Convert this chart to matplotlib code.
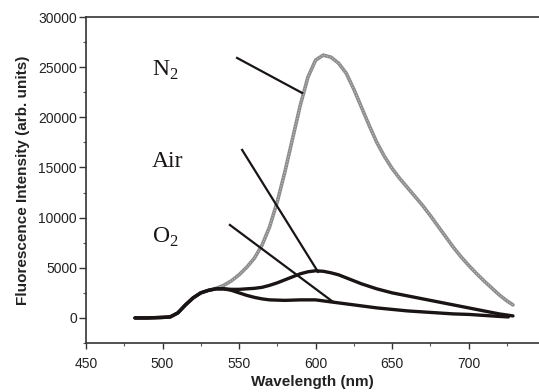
import matplotlib
matplotlib.use('Agg')
import matplotlib.pyplot as plt
from matplotlib.ticker import MultipleLocator

plt.rcParams['font.family'] = ['Liberation Sans', 'DejaVu Sans']
plt.rcParams['mathtext.fontset'] = 'custom'
plt.rcParams['mathtext.rm'] = 'Liberation Serif'

# N2 (grey)
wl_n2 = [482, 490, 500, 505, 510, 515, 520, 525, 530, 535, 540, 545, 550, 555, 560,
         565, 570, 575, 580, 585, 590, 595, 600, 605, 610, 615, 620, 625, 630, 635,
         640, 645, 650, 655, 660, 665, 670, 675, 680, 685, 690, 695, 700, 705, 710,
         715, 720, 725, 729]
int_n2 = [0, 0, 50, 100, 500, 1300, 2000, 2500, 2750, 2950, 3250, 3700, 4300, 5050, 5950,
          7250, 9100, 11600, 14600, 17900, 21200, 24000, 25700, 26200, 26000, 25400, 24400, 22800, 21000, 19200,
          17500, 16100, 14900, 13900, 13000, 12100, 11200, 10200, 9150, 8100, 7050, 6100, 5250, 4450, 3700,
          3000, 2300, 1700, 1300]

# Air
wl_air = [482, 490, 500, 505, 510, 515, 520, 525, 530, 535, 540, 545, 550, 555, 560,
          565, 570, 575, 580, 585, 590, 595, 600, 605, 610, 615, 620, 625, 630, 635,
          640, 645, 650, 660, 670, 680, 690, 700, 710, 720, 729]
int_air = [0, 0, 50, 100, 500, 1300, 2000, 2500, 2750, 2900, 2900, 2850, 2850, 2900, 2950,
           3050, 3250, 3500, 3800, 4100, 4400, 4600, 4700, 4650, 4500, 4300, 4000, 3700, 3400, 3150,
           2900, 2700, 2500, 2200, 1900, 1600, 1300, 1000, 700, 400, 200]

# O2
wl_o2 = [482, 490, 500, 505, 510, 515, 520, 525, 530, 535, 540, 545, 550, 555, 560,
         565, 570, 580, 590, 600, 610, 620, 630, 640, 650, 660, 670, 680, 690, 700,
         710, 720, 726]
int_o2 = [0, 0, 50, 100, 500, 1300, 2000, 2500, 2750, 2900, 2900, 2750, 2500, 2250, 2050,
          1900, 1800, 1750, 1800, 1800, 1600, 1400, 1200, 1000, 850, 700, 600, 500, 400, 350,
          250, 150, 100]

labels = [r'N$_{\mathrm{2}}$', 'Air', r'O$_{\mathrm{2}}$']
label_pos = [(493, 24130), (493, 15050), (493, 7480)]
leader_lines = [((548.7, 25920), (591.2, 22430)),
                ((552, 16750), (601.6, 4590)),
                ((544, 9270), (611.4, 1600))]

fig = plt.figure(figsize=(5.39, 3.92), dpi=100)
ax = fig.add_axes([0.1596, 0.125, 0.8404, 0.8316])

ax.plot(wl_n2, int_n2, color='#8c8c8c', lw=2.6, solid_capstyle='round')
ax.plot(wl_n2, int_n2, color='#c4c4c4', lw=0.8, ls=(0, (1, 1.5)))
ax.plot(wl_air, int_air, color='#1a1414', lw=2.4, solid_capstyle='round')
ax.plot(wl_o2, int_o2, color='#1a1414', lw=2.4, solid_capstyle='round')

for (p0, p1) in leader_lines:
    ax.plot([p0[0], p1[0]], [p0[1], p1[1]], color='#1a1414', lw=1.6)

for txt, (x, y) in zip(labels, label_pos):
    ax.text(x, y, txt, fontsize=17, family='Liberation Serif', ha='left', va='baseline',
            color='#1a1414')

ax.set_xlim(450, 746)
ax.set_ylim(-2500, 30000)
ax.xaxis.set_major_locator(MultipleLocator(50))
ax.xaxis.set_minor_locator(MultipleLocator(25))
ax.yaxis.set_major_locator(MultipleLocator(5000))
ax.yaxis.set_minor_locator(MultipleLocator(2500))

ax.spines['right'].set_visible(False)
for s in ['left', 'top', 'bottom']:
    ax.spines[s].set_linewidth(1.2)
    ax.spines[s].set_color('#333333')

ax.tick_params(axis='x', which='major', length=4, width=1.0, pad=6, labelsize=10, colors='#333333')
ax.tick_params(axis='x', which='minor', length=2.5, width=0.8, colors='#555555')
ax.tick_params(axis='y', which='major', length=5, width=1.0, pad=1.5, labelsize=10, colors='#333333')
ax.tick_params(axis='y', which='minor', length=2.5, width=0.8, colors='#555555')
for lab in ax.get_xticklabels() + ax.get_yticklabels():
    lab.set_color('#222222')

ax.set_xlabel('Wavelength (nm)', fontsize=11, fontweight='bold', labelpad=3, color='#222222')
ax.set_ylabel('Fluorescence Intensity (arb. units)', fontsize=11, fontweight='bold',
              labelpad=6, color='#222222')

fig.savefig('out.png', dpi=100)
